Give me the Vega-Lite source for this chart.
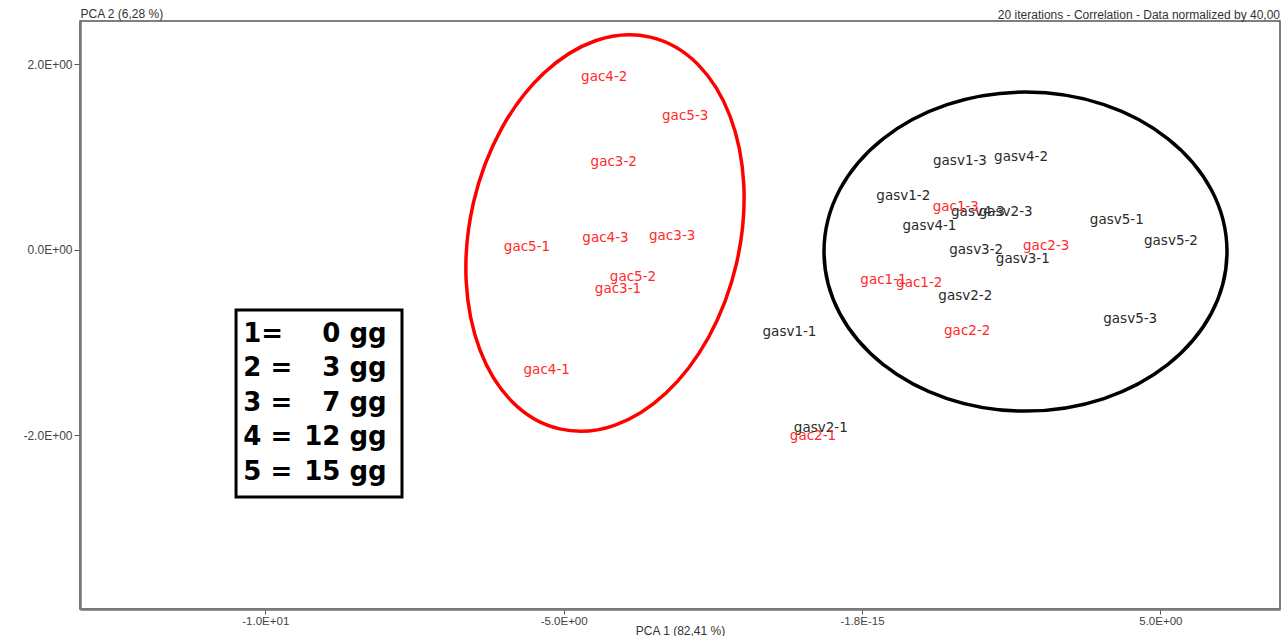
{
  "$schema": "https://vega.github.io/schema/vega-lite/v6.json",
  "width": 1200,
  "height": 588,
  "autosize": {"type": "none"},
  "padding": {"left": 80, "top": 21, "right": 7, "bottom": 27},
  "background": "white",
  "title": {
    "text": "20 iterations - Correlation - Data normalized by 40,00",
    "anchor": "end",
    "font": "Liberation Sans",
    "fontSize": 12,
    "fontWeight": "normal",
    "color": "#333",
    "baseline": "alphabetic",
    "offset": 5,
    "dy": 29
  },
  "config": {
    "view": {"stroke": "#555", "strokeWidth": 1.5},
    "axis": {
      "grid": false,
      "domainColor": "#777",
      "domainWidth": 2.5,
      "tickColor": "#555",
      "tickWidth": 1,
      "labelFont": "Liberation Sans",
      "labelFontSize": 12,
      "labelColor": "#444",
      "titleFont": "Liberation Sans",
      "titleFontSize": 12,
      "titleFontWeight": "normal",
      "titleColor": "#333"
    }
  },
  "datasets": {
    "scores": [
      {"label": "gasv1-3", "group": "gasv", "pc1": 1.642, "pc2": 0.957},
      {"label": "gasv4-2", "group": "gasv", "pc1": 2.665, "pc2": 1.001},
      {"label": "gasv1-2", "group": "gasv", "pc1": 0.692, "pc2": 0.577},
      {"label": "gasv4-3", "group": "gasv", "pc1": 1.944, "pc2": 0.408},
      {"label": "gasv2-3", "group": "gasv", "pc1": 2.408, "pc2": 0.408},
      {"label": "gasv4-1", "group": "gasv", "pc1": 1.131, "pc2": 0.253},
      {"label": "gasv5-1", "group": "gasv", "pc1": 4.270, "pc2": 0.318},
      {"label": "gasv5-2", "group": "gasv", "pc1": 5.178, "pc2": 0.092},
      {"label": "gasv3-2", "group": "gasv", "pc1": 1.914, "pc2": -0.005},
      {"label": "gasv3-1", "group": "gasv", "pc1": 2.695, "pc2": -0.102},
      {"label": "gasv2-2", "group": "gasv", "pc1": 1.731, "pc2": -0.498},
      {"label": "gasv5-3", "group": "gasv", "pc1": 4.495, "pc2": -0.753},
      {"label": "gasv1-1", "group": "gasv", "pc1": -1.215, "pc2": -0.886},
      {"label": "gasv2-1", "group": "gasv", "pc1": -0.690, "pc2": -1.928},
      {"label": "gac1-3", "group": "gac", "pc1": 1.572, "pc2": 0.461},
      {"label": "gac2-3", "group": "gac", "pc1": 3.087, "pc2": 0.038},
      {"label": "gac1-1", "group": "gac", "pc1": 0.360, "pc2": -0.334},
      {"label": "gac1-2", "group": "gac", "pc1": 0.959, "pc2": -0.364},
      {"label": "gac2-2", "group": "gac", "pc1": 1.763, "pc2": -0.875},
      {"label": "gac2-1", "group": "gac", "pc1": -0.821, "pc2": -2.011},
      {"label": "gac4-2", "group": "gac", "pc1": -4.320, "pc2": 1.863},
      {"label": "gac5-3", "group": "gac", "pc1": -2.963, "pc2": 1.439},
      {"label": "gac3-2", "group": "gac", "pc1": -4.160, "pc2": 0.947},
      {"label": "gac4-3", "group": "gac", "pc1": -4.299, "pc2": 0.127},
      {"label": "gac3-3", "group": "gac", "pc1": -3.181, "pc2": 0.146},
      {"label": "gac5-1", "group": "gac", "pc1": -5.614, "pc2": 0.030},
      {"label": "gac5-2", "group": "gac", "pc1": -3.838, "pc2": -0.293},
      {"label": "gac3-1", "group": "gac", "pc1": -4.089, "pc2": -0.429},
      {"label": "gac4-1", "group": "gac", "pc1": -5.284, "pc2": -1.299}
    ],
    "key": [
      {"left": "1=", "right": "0 gg", "row": -0.994},
      {"left": "2 =", "right": "3 gg", "row": -1.367},
      {"left": "3 =", "right": "7 gg", "row": -1.740},
      {"left": "4 =", "right": "12 gg", "row": -2.112},
      {"left": "5 =", "right": "15 gg", "row": -2.485}
    ],
    "box": [
      {"x1": -10.49, "x2": -7.709, "y1": -0.652, "y2": -2.668}
    ]
  },
  "layer": [
    {
      "mark": {"type": "rule", "color": "#555", "strokeWidth": 1.3, "strokeDash": [4, 4]},
      "encoding": {"y": {"datum": 0, "type": "quantitative", "scale": {"domain": [-3.876, 2.464], "nice": false, "zero": false}}}
    },
    {
      "mark": {"type": "rule", "color": "#555", "strokeWidth": 1.3, "strokeDash": [2, 3]},
      "encoding": {"x": {"datum": 0, "type": "quantitative", "scale": {"domain": [-13.105, 7.005], "nice": false, "zero": false}}}
    },
    {
      "data": {"values": [{"cx": -4.307, "cy": 0.178}]},
      "mark": {
        "type": "point",
        "shape": "M 0.6716 0 C 0.6716 0.5523 0.3709 1 0 1 C -0.3709 1 -0.6716 0.5523 -0.6716 0 C -0.6716 -0.5523 -0.3709 -1 0 -1 C 0.3709 -1 0.6716 -0.5523 0.6716 0 Z",
        "size": 161604,
        "angle": 13,
        "filled": false,
        "stroke": "#ff0000",
        "strokeWidth": 3.5,
        "opacity": 1
      },
      "encoding": {
        "x": {"field": "cx", "type": "quantitative"},
        "y": {"field": "cy", "type": "quantitative"}
      }
    },
    {
      "data": {"values": [{"cx": 2.740, "cy": -0.022}]},
      "mark": {
        "type": "point",
        "shape": "M 1 0 C 1 0.4372 0.5523 0.7916 0 0.7916 C -0.5523 0.7916 -1 0.4372 -1 0 C -1 -0.4372 -0.5523 -0.7916 0 -0.7916 C 0.5523 -0.7916 1 -0.4372 1 0 Z",
        "size": 162409,
        "filled": false,
        "stroke": "#000000",
        "strokeWidth": 3.5,
        "opacity": 1
      },
      "encoding": {
        "x": {"field": "cx", "type": "quantitative"},
        "y": {"field": "cy", "type": "quantitative"}
      }
    },
    {
      "data": {"name": "scores"},
      "mark": {"type": "text", "font": "DejaVu Sans", "fontSize": 13.5, "align": "center", "baseline": "middle"},
      "encoding": {
        "x": {
          "field": "pc1", "type": "quantitative",
          "scale": {"domain": [-13.105, 7.005], "nice": false, "zero": false},
          "axis": {
            "title": "PCA 1 (82,41 %)",
            "values": [-10, -5, 0, 5],
            "labelExpr": "datum.value == -10 ? '-1.0E+01' : datum.value == -5 ? '-5.0E+00' : datum.value == 0 ? '-1.8E-15' : '5.0E+00'",
            "tickSize": 5,
            "labelPadding": 1,
            "labelFontSize": 11.5,
            "titleBaseline": "alphabetic",
            "titleY": 25
          }
        },
        "y": {
          "field": "pc2", "type": "quantitative",
          "scale": {"domain": [-3.876, 2.464], "nice": false, "zero": false},
          "axis": {
            "title": "PCA 2 (6,28 %)",
            "values": [-2, 0, 2],
            "labelExpr": "datum.value == 2 ? '2.0E+00' : datum.value == 0 ? '0.0E+00' : '-2.0E+00'",
            "tickSize": 6,
            "labelPadding": 2,
            "titleAngle": 0,
            "titleAlign": "left",
            "titleBaseline": "alphabetic",
            "titleX": 0,
            "titleY": -4
          }
        },
        "text": {"field": "label"},
        "color": {
          "field": "group", "type": "nominal",
          "scale": {"domain": ["gac", "gasv"], "range": ["#ff2a2a", "#2a2a2a"]},
          "legend": null
        }
      }
    },
    {
      "data": {"name": "box"},
      "mark": {"type": "rect", "fill": "white", "stroke": "#000000", "strokeWidth": 3},
      "encoding": {
        "x": {"field": "x1", "type": "quantitative"},
        "x2": {"field": "x2"},
        "y": {"field": "y1", "type": "quantitative"},
        "y2": {"field": "y2"}
      }
    },
    {
      "data": {"name": "key"},
      "mark": {"type": "text", "font": "DejaVu Sans", "fontWeight": "bold", "fontSize": 26, "align": "left", "baseline": "alphabetic", "color": "#000"},
      "encoding": {
        "x": {"datum": -10.369, "type": "quantitative"},
        "y": {"field": "row", "type": "quantitative"},
        "text": {"field": "left"}
      }
    },
    {
      "data": {"name": "key"},
      "mark": {"type": "text", "font": "DejaVu Sans", "fontWeight": "bold", "fontSize": 26, "align": "right", "baseline": "alphabetic", "color": "#000"},
      "encoding": {
        "x": {"datum": -7.966, "type": "quantitative"},
        "y": {"field": "row", "type": "quantitative"},
        "text": {"field": "right"}
      }
    }
  ]
}
